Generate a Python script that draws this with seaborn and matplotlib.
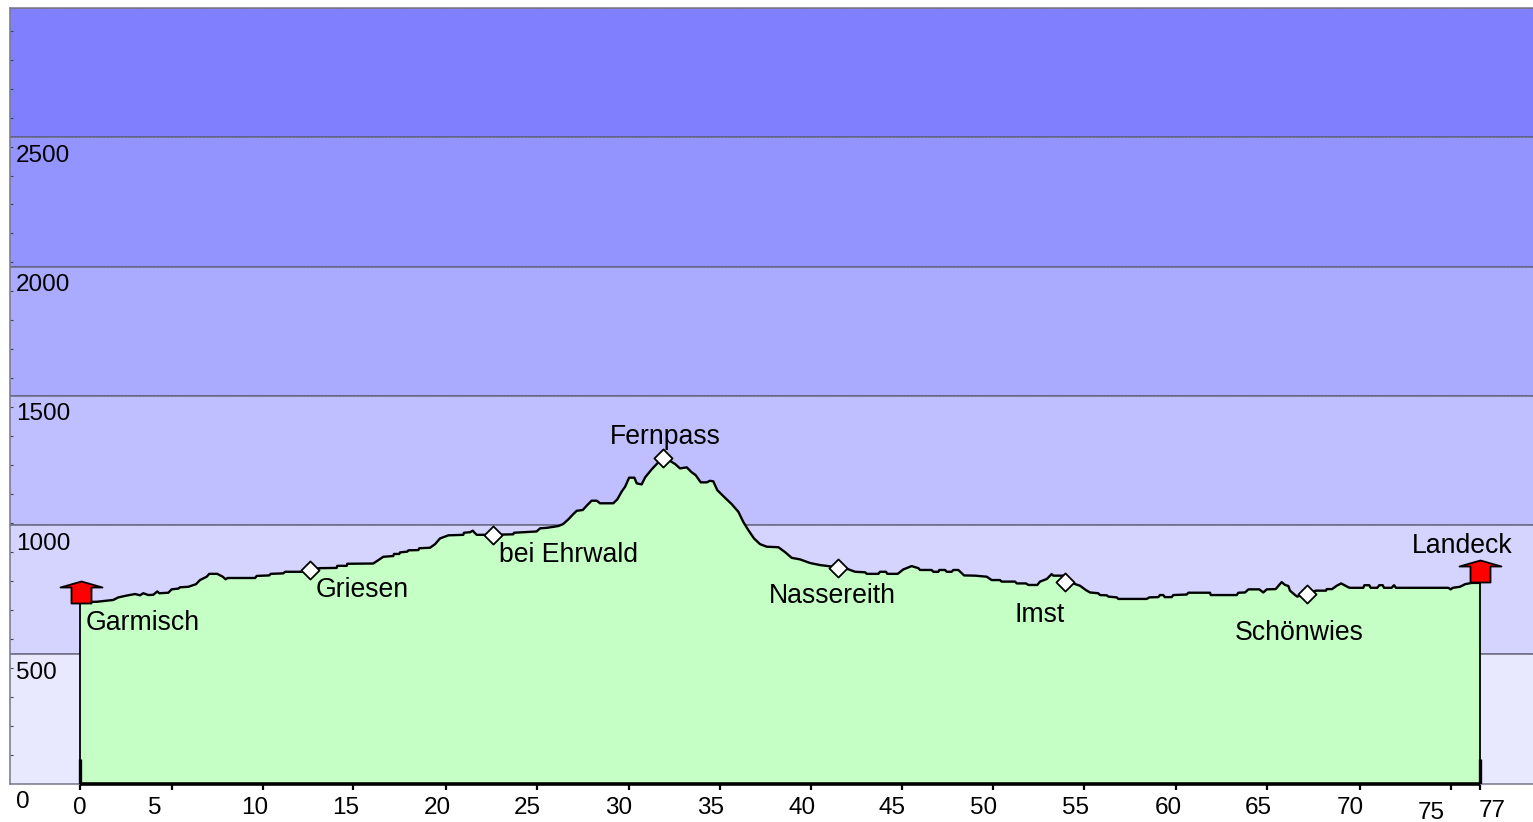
import matplotlib
matplotlib.use("Agg")
import matplotlib.pyplot as plt
from matplotlib.markers import MarkerStyle
from matplotlib.path import Path
from matplotlib.ticker import MultipleLocator
import numpy as np
import pandas as pd
import seaborn as sns

# ---- data -------------------------------------------------------------
km = [0,.92,1.83,2.11,2.57,3.03,3.30,3.48,3.76,4.03,4.25,4.36,4.86,5.04,5.41,5.50,5.96,6.38,6.60,6.97,
      7.11,7.55,7.85,8.01,8.12,9.63,9.72,10.41,10.49,11.18,11.28,12.19,12.65,13.2,14.12,14.15,14.67,14.70,16.13,16.41,
      16.68,17.23,17.27,17.56,17.6,18.0,18.06,18.61,18.66,19.25,19.53,19.8,20.26,21.08,21.12,21.45,21.6,21.73,21.82,22.7,
      23.83,23.87,25.12,25.3,25.67,26.31,26.58,26.86,27.13,27.32,27.65,27.9,28.14,28.42,28.6,29.33,29.55,29.79,29.98,30.2,
      30.49,30.62,30.89,31.08,31.44,31.72,32.05,32.45,32.73,33.0,33.37,33.64,33.86,34.14,34.47,34.65,34.83,35.05,35.48,35.84,
      36.21,36.48,36.76,37.07,37.4,37.77,38.41,38.78,39.14,39.6,40.15,40.7,41.16,41.67,42.17,42.63,43.18,43.27,43.91,44.0,
      44.33,44.4,44.97,45.28,45.74,46.11,46.2,46.84,46.93,47.21,47.26,47.58,47.67,47.94,48.03,48.31,48.62,49.23,49.87,50.14,
      50.6,50.69,51.43,51.52,52.03,52.16,52.65,52.8,53.17,53.44,53.53,54.08,54.63,55.0,55.33,55.55,56.0,56.1,56.47,56.56,
      57.02,57.11,58.67,58.81,59.31,59.4,59.58,59.66,60.04,60.13,60.87,60.96,62.15,62.19,63.62,63.71,64.08,64.26,64.86,65.08,
      65.27,65.76,66.09,66.28,66.46,66.55,66.83,66.95,67.47,67.98,68.53,68.57,68.86,69.12,69.36,69.76,69.85,70.58,70.64,70.91,
      70.99,71.35,71.46,71.65,71.72,72.14,72.27,72.38,75.26,75.39,75.5,75.9,76.18,76.54,77]
elev = [702,703,710,720,727,733,728,736,729,730,743,736,738,751,754,759,761,771,787,800,
        811,811,800,790,795,795,803,805,811,813,819,819,828,833,834,842,842,850,851,864,
        877,880,888,888,894,897,902,903,910,912,926,948,960,962,970,972,978,968,962,962,
        964,970,975,987,989,996,1004,1022,1042,1055,1058,1077,1094,1094,1084,1084,1099,1129,1148,1183,
        1183,1161,1157,1184,1215,1236,1262,1248,1236,1219,1223,1204,1193,1165,1165,1171,1169,1135,1105,1081,
        1051,1012,980,948,926,916,914,895,873,867,853,845,841,835,831,819,817,811,811,819,
        819,811,811,828,841,833,826,826,819,819,826,826,819,819,826,826,805,804,800,787,
        787,781,781,774,774,768,768,781,791,810,804,804,774,765,748,739,736,729,728,723,
        720,714,714,720,721,729,729,721,721,729,731,738,738,729,729,738,739,751,751,739,
        751,752,779,768,764,746,729,723,736,746,746,752,752,765,774,759,757,757,767,767,
        757,757,767,767,757,757,767,757,757,751,757,761,771,776,776]

band_edges = [0, 500, 1000, 1500, 2000, 2500, 3000]
band_colors = ["#e8e8ff", "#d4d4ff", "#bfbfff", "#aaaaff", "#9494ff", "#8080ff"]
y_labels = ["0", "500", "1000", "1500", "2000", "2500"]

tick_km = [0, 5.07, 10.07, 15.03, 20.13, 25.13, 30.2, 35.2, 40.2, 45.2, 50.2, 55.2, 60.3, 65.3, 70.4, 75.4, 77]
tick_labels = ["0", "5", "10", "15", "20", "25", "30", "35", "40", "45", "50", "55", "60", "65", "70", "75", "77"]
tick_label_km = [0, 4.13, 9.63, 14.63, 19.64, 24.59, 29.65, 34.7, 39.7, 44.66, 49.72, 54.73, 59.84, 64.79, 69.85, 74.3, 77.66]
tick_label_drop = [24, 24, 24, 24, 24, 24, 24, 24, 24, 24, 24, 24, 24, 24, 24, 29, 27]

way_km = [12.65, 22.7, 32.05, 41.67, 54.18, 67.47]
way_elev = [826, 961, 1261, 834, 781, 735]
flag_km = [0.05, 77]
flag_elev = [741, 821]

place_names = ["Garmisch", "Griesen", "bei Ehrwald", "Fernpass", "Nassereith", "Imst", "Schönwies", "Landeck"]
place_km = [.33, 12.98, 23.05, 29.15, 37.9, 51.38, 63.53, 73.26]
place_elev = [621, 748, 884, 1340, 725, 651, 582, 918]

# ---- style ------------------------------------------------------------
sns.set_style("white")
plt.rcParams["font.family"] = ["Liberation Sans", "DejaVu Sans"]
W, H = 1533, 822
fig = plt.figure(figsize=(W / 100, H / 100), dpi=100, facecolor="white")
ax = fig.add_axes([10 / W, (H - 783.5) / H, (W - 10) / W, 775.5 / H])
ax.set_xlim(-3.85, 79.915)
ax.set_ylim(0, 3000)

for lo, hi, col in zip(band_edges[:-1], band_edges[1:], band_colors):
    ax.axhspan(lo, hi, facecolor=col, edgecolor="none", zorder=0)
ax.hlines(band_edges[1:], -3.85, 79.915, color="#56566f", lw=1.1, zorder=1)
ax.hlines(band_edges[1:], -3.85, 79.915, color="#9a9aa8", lw=0.5, linestyles=(0, (1, 1)), zorder=1.1)

profile = pd.DataFrame({"km": km, "elev": elev})
ax.fill_between(profile["km"], 0, profile["elev"], color="#c6ffc6", lw=0, zorder=2)
sns.lineplot(data=profile, x="km", y="elev", ax=ax, color="black", lw=1.7,
             errorbar=None, estimator=None, sort=False, zorder=3)
ax.set_xlabel("")
ax.set_ylabel("")
ax.vlines([0, 77], 0, [elev[0], elev[-1]], color="black", lw=1.3, zorder=3)
ax.vlines([0, 77], 0, 95, color="black", lw=2.4, zorder=3)
ax.hlines(0, 0, 77, color="black", lw=2.6, zorder=4, clip_on=False)

# small scale marks along the frame
for s in ("top", "left", "bottom"):
    ax.spines[s].set_visible(True)
    ax.spines[s].set_color("#77778a")
    ax.spines[s].set_linewidth(1.1)
ax.spines["right"].set_visible(False)
ax.yaxis.set_minor_locator(MultipleLocator(112))
ax.tick_params(axis="y", which="minor", left=True, length=2, width=0.8, color="#444455", direction="in")
ax.tick_params(axis="y", which="major", left=False, labelleft=False)

ax.set_xticks(tick_km)
ax.set_xticklabels([])
ax.tick_params(axis="x", which="major", bottom=True, length=4.2, width=1.6, color="black", direction="out")

# place flags
flag_shape = Path([(-21, 5), (0, 11), (21, 5), (10, 5), (10, -11), (-10, -11), (-10, 5), (-21, 5)], closed=True)
sns.scatterplot(x=flag_km, y=flag_elev, ax=ax, marker=MarkerStyle(flag_shape), s=914,
                color="#ff0000", edgecolor="black", linewidth=1.3, zorder=6, clip_on=False, legend=False)
sns.scatterplot(x=way_km, y=way_elev, ax=ax, marker="D", s=85, color="white",
                edgecolor="black", linewidth=1.3, zorder=6, legend=False)

for name, x, y in zip(place_names, place_km, place_elev):
    ax.text(x, y, name, fontsize=19.2, color="black", ha="left", va="center", zorder=7)

for lab, val in zip(y_labels, band_edges):
    ax.annotate(lab, xy=(0, val), xycoords=("axes fraction", "data"),
                xytext=(4.4, -13.4), textcoords="offset points",
                ha="left", va="center", fontsize=17.5, color="black", annotation_clip=False)

for lab, x, d in zip(tick_labels, tick_label_km, tick_label_drop):
    ax.annotate(lab, xy=(x, 0), xytext=(0, -d * 0.72), textcoords="offset points",
                ha="center", va="center", fontsize=17.5, color="black", annotation_clip=False)

fig.savefig("out.png", dpi=100, facecolor="white")
